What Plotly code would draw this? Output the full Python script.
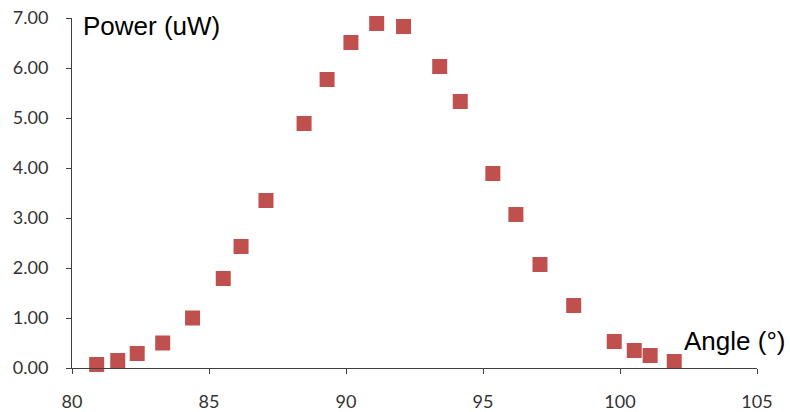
import plotly.graph_objects as go

angle = [80.9, 81.67, 82.38, 83.31, 84.40, 85.52, 86.17, 87.08, 88.47, 89.31,
         90.18, 91.12, 92.10, 93.42, 94.17, 95.36, 96.20, 97.08, 98.31, 99.79,
         100.52, 101.10, 101.98]
power = [0.07, 0.15, 0.29, 0.50, 1.00, 1.79, 2.43, 3.35, 4.89, 5.77,
         6.51, 6.89, 6.83, 6.03, 5.33, 3.89, 3.07, 2.07, 1.25, 0.53,
         0.35, 0.25, 0.13]
x_ticks = [80, 85, 90, 95, 100, 105]
y_ticks = [0, 1, 2, 3, 4, 5, 6, 7]

fig = go.Figure()
fig.add_trace(go.Scatter(
    x=angle, y=power, mode="markers",
    marker=dict(symbol="square", size=15, color="#C0504D",
                line=dict(width=0)),
    showlegend=False,
    cliponaxis=False,
))

axis_color = "#404040"
tick_font = dict(family="Lato, Open Sans, sans-serif", size=18, color="#333333")

fig.update_layout(
    width=790, height=412,
    margin=dict(l=72, r=33, t=18, b=44),
    paper_bgcolor="white", plot_bgcolor="white",
    xaxis=dict(range=[80, 105], tickvals=x_ticks, ticks="outside", ticklen=5,
               tickcolor=axis_color, showline=True, linecolor=axis_color,
               linewidth=1, showgrid=False, zeroline=False, tickfont=tick_font,
               ticklabelstandoff=12, automargin=False),
    yaxis=dict(range=[0, 7], tickvals=y_ticks, tickformat=".2f", ticks="outside",
               ticklen=5, tickcolor=axis_color, showline=True, linecolor=axis_color,
               linewidth=1, showgrid=False, zeroline=False, tickfont=tick_font,
               ticklabelstandoff=14, automargin=False),
    annotations=[
        dict(text="Power (uW)", xref="paper", yref="paper", x=0.013, y=0.976,
             xanchor="left", yanchor="middle", showarrow=False,
             font=dict(family="Liberation Sans, Arial", size=26, color="black")),
        dict(text="Angle (°)", xref="paper", yref="paper", x=1.044, y=0.076,
             xanchor="right", yanchor="middle", showarrow=False,
             font=dict(family="Liberation Sans, Arial", size=26, color="black")),
    ],
)

fig.write_html("out.html")
